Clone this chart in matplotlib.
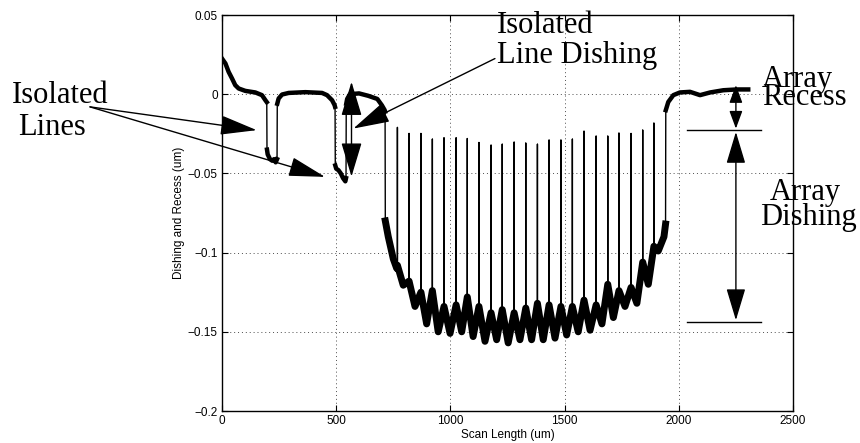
import numpy as np
import matplotlib
matplotlib.use("Agg")
import matplotlib.pyplot as plt

# surface profile (x in um, y in um)
left_x = [0, 15, 29, 44, 58, 73, 102, 146, 175, 190, 196]
left_y = [0.0225, 0.0194, 0.0141, 0.0099, 0.0057, 0.0036, 0.0021, 0.0011, -0.0006, -0.0038, -0.0050]
dip1_x = [197, 200, 210, 220, 228, 235, 241]
dip1_y = [-0.035, -0.038, -0.041, -0.042, -0.041, -0.043, -0.041]
mid_x = [242, 248, 263, 292, 365, 438, 460, 482, 493, 495]
mid_y = [-0.006, -0.0027, -0.0002, 0.0008, 0.0013, 0.0008, -0.0006, -0.0038, -0.0069, -0.008]
dip2_x = [496, 500, 510, 520, 530, 540, 543]
dip2_y = [-0.045, -0.047, -0.048, -0.050, -0.053, -0.055, -0.053]
pre_x = [544, 548, 560, 600, 640, 680, 700, 712, 714]
pre_y = [-0.006, -0.003, 0.000, 0.0005, -0.001, -0.003, -0.007, -0.010, -0.011]

# the line array
arr_in_x = [715, 728, 750, 765]
arr_in_y = [-0.080, -0.090, -0.104, -0.110]
spike_x = [768, 819, 871, 921, 972, 1025, 1074, 1125, 1178, 1227, 1279, 1330,
           1381, 1432, 1484, 1534, 1585, 1638, 1689, 1738, 1791, 1842, 1891]
spike_top = [-0.021, -0.0248, -0.0248, -0.0284, -0.0276, -0.0276, -0.028, -0.0305,
             -0.0322, -0.0316, -0.0303, -0.0309, -0.0316, -0.029, -0.029, -0.0284,
             -0.0234, -0.0265, -0.0265, -0.0246, -0.0248, -0.0227, -0.0183]
spike_base = [-0.108, -0.118, -0.125, -0.124, -0.134, -0.133, -0.128, -0.134,
              -0.138, -0.136, -0.138, -0.135, -0.132, -0.133, -0.134, -0.134,
              -0.130, -0.133, -0.120, -0.124, -0.122, -0.106, -0.096]
cell_trough = [-0.1206, -0.134, -0.145, -0.150, -0.151, -0.150, -0.153, -0.156,
               -0.155, -0.157, -0.155, -0.155, -0.155, -0.154, -0.152, -0.150,
               -0.149, -0.145, -0.141, -0.134, -0.132, -0.120]
arr_out_x = [1910, 1935, 1942]
arr_out_y = [-0.099, -0.090, -0.082]
post_x = [1943, 1954, 1976, 2005, 2049, 2093, 2137, 2195, 2253, 2304]
post_y = [-0.0101, -0.0049, -0.0006, 0.0011, 0.0015, -0.0006, 0.0011, 0.0025, 0.003, 0.003]

# build array part: band (no spike tops) and full trace
band_x, band_y = list(arr_in_x), list(arr_in_y)
arr_x, arr_y = list(arr_in_x), list(arr_in_y)
for i in range(len(spike_x)):
    arr_x += [spike_x[i], spike_x[i], spike_x[i]]
    arr_y += [spike_base[i], spike_top[i], spike_base[i]]
    band_x.append(spike_x[i])
    band_y.append(spike_base[i])
    if i < len(cell_trough):
        xm = (spike_x[i] + spike_x[i + 1]) / 2
        arr_x.append(xm)
        arr_y.append(cell_trough[i])
        band_x.append(xm)
        band_y.append(cell_trough[i])
arr_x += arr_out_x
arr_y += arr_out_y
band_x += arr_out_x
band_y += arr_out_y

full_x = left_x + dip1_x + mid_x + dip2_x + pre_x + arr_x + post_x
full_y = left_y + dip1_y + mid_y + dip2_y + pre_y + arr_y + post_y

fig = plt.figure(figsize=(8.6, 4.43), dpi=100)
ax = fig.add_axes([222 / 860, 32 / 443, 571 / 860, 396 / 443])

ax.plot(full_x, full_y, color='k', lw=1.0)
for sx, sy in [(left_x, left_y), (dip1_x, dip1_y), (mid_x, mid_y), (dip2_x, dip2_y),
               (pre_x, pre_y), (post_x, post_y)]:
    ax.plot(sx, sy, color='k', lw=3.2)
ax.plot(band_x, band_y, color='k', lw=5.0)

ax.set_xlim(0, 2500)
ax.set_ylim(-0.2, 0.05)
ax.set_xticks([0, 500, 1000, 1500, 2000, 2500])
ax.set_yticks([-0.2, -0.15, -0.1, -0.05, 0, 0.05])
ax.set_yticklabels(['\u22120.2', '\u22120.15', '\u22120.1', '\u22120.05', '0', '0.05'])
ax.tick_params(direction='in', top=True, right=True, length=4, width=0.8,
               labelsize=8.5, pad=3)
for lab in ax.get_xticklabels() + ax.get_yticklabels():
    lab.set_family('Liberation Sans')
ax.grid(True, linestyle=(0, (1, 3)), color='0.3', lw=0.7)
for s in ax.spines.values():
    s.set_linewidth(1.0)
ax.set_xlabel('Scan Length (um)', fontsize=8.5, family='Liberation Sans', labelpad=1)
ax.set_ylabel('Dishing and Recess (um)', fontsize=8.5, family='Liberation Sans', labelpad=2)

# annotations
def arrow(x0, y0, x1, y1, style, hl, hw):
    ax.annotate('', xy=(x1, y1), xytext=(x0, y0), annotation_clip=False,
                arrowprops=dict(arrowstyle='%s,head_length=%g,head_width=%g' % (style, hl, hw),
                                mutation_scale=1, color='k', lw=1.0,
                                shrinkA=0, shrinkB=0))

arrow(-578, -0.008, 152, -0.0227, '-|>', 23, 6.1)
arrow(-578, -0.008, 451, -0.0522, '-|>', 23, 6.1)
arrow(1195, 0.0225, 575, -0.0217, '-|>', 23, 6.3)
arrow(567, -0.052, 567, 0.0078, '<|-|>', 21.6, 6.5)
arrow(2250, -0.0217, 2250, 0.0057, '<|-|>', 10.8, 4.0)
arrow(2250, -0.1427, 2250, -0.0238, '<|-|>', 20, 6.0)
ax.plot([2037, 2358], [-0.0227, -0.0227], color='k', lw=1.0, clip_on=False)
ax.plot([2037, 2358], [-0.1437, -0.1437], color='k', lw=1.0, clip_on=False)

def label(x, y, s):
    fig.text(x / 860, 1 - y / 443, s, family='Liberation Serif', fontsize=22,
             va='baseline', ha='left')

label(11.7, 103.3, 'Isolated')
label(18.3, 135, 'Lines')
label(496.7, 33.3, 'Isolated')
label(497.3, 63.3, 'Line Dishing')
label(761.7, 87.3, 'Array')
label(761.7, 105, 'Recess')
label(770, 200, 'Array')
label(760, 225, 'Dishing')

fig.savefig('out.png', dpi=100)
